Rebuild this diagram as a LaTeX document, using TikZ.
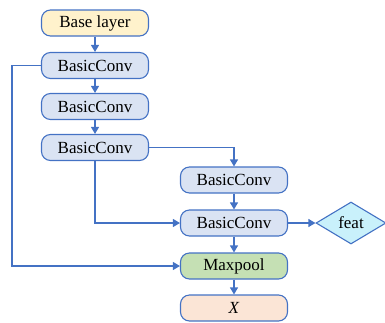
\documentclass[tikz,border=0pt]{standalone}
\usepackage{fontspec}
\setmainfont{Liberation Serif}
\usetikzlibrary{arrows.meta,shapes.geometric}
\definecolor{lc}{HTML}{4472C4}
\definecolor{bluef}{HTML}{DAE3F3}
\definecolor{yelf}{HTML}{FFF2CC}
\definecolor{grnf}{HTML}{C5E0B4}
\definecolor{orf}{HTML}{FBE5D6}
\definecolor{cyf}{HTML}{C9F1FB}
\tikzset{
  box/.style={draw=lc, line width=1.1pt, rounded corners=9pt, minimum width=107pt, minimum height=26pt, inner sep=0pt, font=\fontsize{17}{19}\selectfont},
  conv/.style={box, fill=bluef},
  link/.style={draw=lc, line width=1.1pt, -{Triangle[length=7pt,width=8pt]}},
}
\begin{document}
\begin{tikzpicture}[x=1pt,y=-1pt]
\useasboundingbox (0,0) rectangle (385,322);
\node[box, fill=yelf] (base) at (95,23) {Base layer};
\node[conv] (c1) at (95,65.5) {BasicConv};
\node[conv] (c2) at (95,106.5) {BasicConv};
\node[conv] (c3) at (95,147.5) {BasicConv};
\node[conv] (c4) at (234,180) {BasicConv};
\node[conv] (c5) at (234,223) {BasicConv};
\node[box, fill=grnf] (mp) at (234,266) {Maxpool};
\node[box, fill=orf] (x) at (234,308) {\textit{X}};
\node[diamond, draw=lc, line width=1.1pt, fill=cyf, minimum width=70pt, minimum height=42pt, inner sep=0pt, font=\fontsize{17}{19}\selectfont] (feat) at (351,223) {feat};
\coordinate (l) at (12,65.5);
\draw[link] (base) -- (c1);
\draw[link] (c1) -- (c2);
\draw[link] (c2) -- (c3);
\draw[link] (c3.east) -| (c4.north);
\draw[link] (c4) -- (c5);
\draw[link] (c3.south) |- (c5.west);
\draw[link] (c5) -- (feat);
\draw[link] (c5) -- (mp);
\draw[link] (c1.west) -- (l) |- (mp.west);
\draw[link] (mp) -- (x);
\end{tikzpicture}
\end{document}
